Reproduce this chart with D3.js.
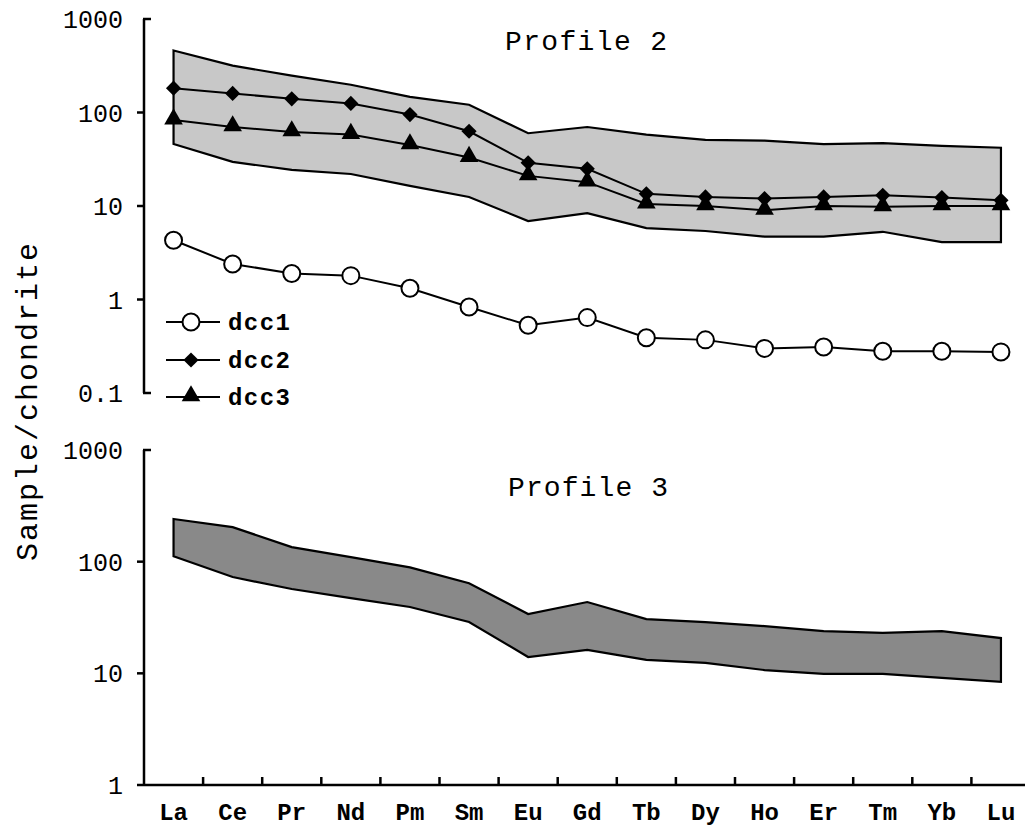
<!DOCTYPE html>
<html>
<head>
<meta charset="utf-8">
<script src="https://cdn.jsdelivr.net/npm/d3@7"></script>
<style>
  body { margin: 0; background: #fff; }
  svg { display: block; }
  text { font-family: "Liberation Mono", "DejaVu Sans Mono", monospace; fill: #000; }
</style>
</head>
<body>
<svg id="chart"></svg>
<script>
// REE elements (x axis)
var elements = ["La", "Ce", "Pr", "Nd", "Pm", "Sm", "Eu", "Gd", "Tb", "Dy", "Ho", "Er", "Tm", "Yb", "Lu"];

// Profile 2 - sample lines
var dcc1 = [4.3, 2.4, 1.9, 1.8, 1.32, 0.83, 0.53, 0.64, 0.39, 0.37, 0.3, 0.31, 0.28, 0.28, 0.275];
var dcc2 = [182, 160, 140, 125, 95, 63, 29, 25, 13.5, 12.5, 12, 12.5, 13, 12.3, 11.5];
var dcc3 = [83, 70, 62, 58, 45, 33, 21, 18, 10.5, 10, 9, 10, 9.8, 10, 10];

// Profile 2 - grey envelope
var p2Upper = [460, 317, 248, 198, 147, 121, 60, 70, 58, 51, 50, 46, 47, 44, 42];
var p2Lower = [46, 29.7, 24.3, 22, 16.4, 12.5, 6.9, 8.4, 5.8, 5.4, 4.7, 4.7, 5.3, 4.1, 4.1];

// Profile 3 - dark envelope
var p3Upper = [241, 204, 135, 110, 89, 64, 34, 43.5, 30.6, 28.8, 26.5, 23.9, 23, 23.9, 20.7];
var p3Lower = [112, 72.8, 56.9, 47.2, 39.3, 28.8, 14, 16.2, 13.2, 12.4, 10.7, 9.9, 9.9, 9.1, 8.4];

var ticksTop = [0.1, 1, 10, 100, 1000];
var ticksBottom = [1, 10, 100, 1000];
var legendNames = ["dcc1", "dcc2", "dcc3"];

document.addEventListener("DOMContentLoaded", function() {
	var width = 1025, height = 829;
	var svg = d3.select("#chart").attr("width", width).attr("height", height);

	var axisX = 144;
	var x = d3.scalePoint().domain(elements).range([axisX, axisX + 15 * 59.1]).padding(0.5);
	var step = x.step();

	var yTop = d3.scaleLog().domain([0.1, 1000]).range([393, 19]);
	var yBot = d3.scaleLog().domain([1, 1000]).range([785, 450]);

	// y axis label
	svg.append("text")
		.attr("transform", "translate(37,402) rotate(-90)")
		.attr("text-anchor", "middle")
		.attr("textLength", 318)
		.attr("lengthAdjust", "spacing")
		.style("font-size", "30px")
		.text("Sample/chondrite");

	function yAxis(g, y, ticks, capBottom) {
		var r = y.range();
		g.append("line").attr("x1", axisX).attr("x2", axisX)
			.attr("y1", r[1]).attr("y2", r[0])
			.attr("stroke", "#000").attr("stroke-width", 2.5);
		ticks.forEach(function(t) {
			var yy = y(t);
			var cap = (t == ticks[ticks.length - 1]) || (capBottom && t == ticks[0]);
			g.append("line")
				.attr("x1", cap ? axisX - 1 : axisX - 7)
				.attr("x2", cap ? axisX + 7 : axisX)
				.attr("y1", yy).attr("y2", yy)
				.attr("stroke", "#000").attr("stroke-width", 2.5);
			g.append("text")
				.attr("x", 123).attr("y", yy + 9)
				.attr("text-anchor", "end")
				.style("font-size", "25px")
				.text(t < 1 ? "0.1" : String(t));
		});
	}

	// ---- Profile 2 ----
	var top = svg.append("g");
	var areaTop = d3.area()
		.x(function(d, i) { return x(elements[i]); })
		.y0(function(d, i) { return yTop(p2Lower[i]); })
		.y1(function(d) { return yTop(d); });
	top.append("path").datum(p2Upper)
		.attr("d", areaTop)
		.attr("fill", "#c8c8c8").attr("stroke", "#000").attr("stroke-width", 2.2);

	yAxis(top, yTop, ticksTop, true);

	top.append("text").attr("x", 505).attr("y", 50)
		.attr("textLength", 162).attr("lengthAdjust", "spacing")
		.style("font-size", "28px").text("Profile 2");

	var line = d3.line()
		.x(function(d, i) { return x(elements[i]); })
		.y(function(d) { return yTop(d); });

	[dcc1, dcc2, dcc3].forEach(function(s) {
		top.append("path").datum(s).attr("d", line)
			.attr("fill", "none").attr("stroke", "#000").attr("stroke-width", 2);
	});

	var triangle = d3.symbol().type(d3.symbolTriangle).size(150);
	var diamond = d3.symbol().type(d3.symbolSquare).size(115);

	function marker(g, kind, cx, cy) {
		if (kind == 0) {
			g.append("circle").attr("cx", cx).attr("cy", cy).attr("r", 8.5)
				.attr("fill", "#fff").attr("stroke", "#000").attr("stroke-width", 2);
		} else if (kind == 1) {
			g.append("path").attr("d", diamond())
				.attr("transform", "translate(" + cx + "," + cy + ") rotate(45)")
				.attr("fill", "#000");
		} else {
			g.append("path").attr("d", triangle())
				.attr("transform", "translate(" + cx + "," + (cy - 1) + ")")
				.attr("fill", "#000");
		}
	}

	[dcc1, dcc3, dcc2].forEach(function(s) {
		var kind = s === dcc1 ? 0 : (s === dcc2 ? 1 : 2);
		s.forEach(function(v, i) {
			marker(top, kind, x(elements[i]), yTop(v));
		});
	});

	// legend
	var legY = [322, 360, 397];
	legendNames.forEach(function(n, i) {
		top.append("line").attr("x1", 166).attr("x2", 220)
			.attr("y1", legY[i]).attr("y2", legY[i])
			.attr("stroke", "#000").attr("stroke-width", 2);
		marker(top, i, 191, legY[i]);
		top.append("text").attr("x", 228).attr("y", legY[i] + 8)
			.attr("textLength", 62).attr("lengthAdjust", "spacing")
			.style("font-size", "24px").style("font-weight", "bold").text(n);
	});

	// ---- Profile 3 ----
	var bot = svg.append("g");
	var areaBot = d3.area()
		.x(function(d, i) { return x(elements[i]); })
		.y0(function(d, i) { return yBot(p3Lower[i]); })
		.y1(function(d) { return yBot(d); });
	bot.append("path").datum(p3Upper).attr("d", areaBot)
		.attr("fill", "#898989").attr("stroke", "#000").attr("stroke-width", 2.2);

	yAxis(bot, yBot, ticksBottom, false);

	// x axis
	var y0 = yBot(1);
	bot.append("line").attr("x1", axisX).attr("x2", width)
		.attr("y1", y0).attr("y2", y0)
		.attr("stroke", "#000").attr("stroke-width", 2.5);
	elements.forEach(function(e, i) {
		var bx = x(e) + step / 2;
		bot.append("line").attr("x1", bx).attr("x2", bx)
			.attr("y1", y0).attr("y2", y0 - 8)
			.attr("stroke", "#000").attr("stroke-width", 2.5);
		bot.append("text").attr("x", x(e)).attr("y", y0 + 35)
			.attr("text-anchor", "middle")
			.style("font-size", "24px").style("font-weight", "bold")
			.text(e);
	});

	bot.append("text").attr("x", 508).attr("y", 496)
		.attr("textLength", 160).attr("lengthAdjust", "spacing")
		.style("font-size", "28px").text("Profile 3");
});
</script>
</body>
</html>
